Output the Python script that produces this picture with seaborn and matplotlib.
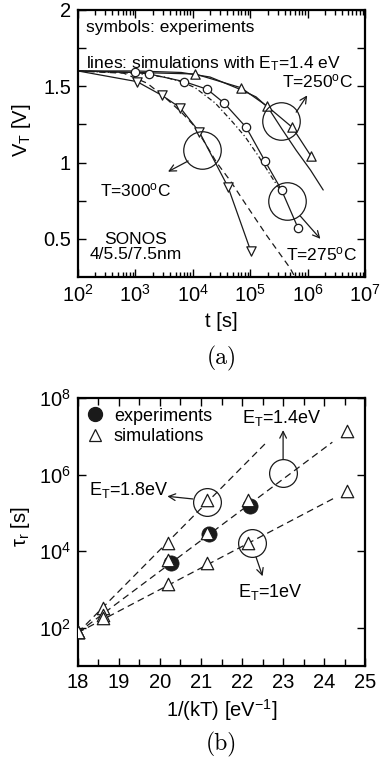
import matplotlib
matplotlib.use("Agg")
import matplotlib.pyplot as plt
import numpy as np
import pandas as pd
import seaborn as sns
from matplotlib.lines import Line2D
from matplotlib.ticker import (LogLocator, MultipleLocator, FixedLocator,
                               NullFormatter, LogFormatterSciNotation, NullLocator)

sns.set_theme(style="ticks", rc={
    "axes.edgecolor": "black", "text.color": "black", "axes.labelcolor": "black",
    "xtick.color": "black", "ytick.color": "black"})
plt.rcParams["font.family"] = ["Liberation Sans", "DejaVu Sans"]
plt.rcParams["mathtext.fontset"] = "custom"
plt.rcParams["mathtext.rm"] = "Liberation Sans"
plt.rcParams["mathtext.it"] = "Liberation Sans:italic"
plt.rcParams["mathtext.bf"] = "Liberation Sans:bold"
plt.rcParams["mathtext.sf"] = "Liberation Sans"
plt.rcParams["mathtext.default"] = "regular"

# ---------------- panel (a) data ----------------
t_start = 1e2
v_start = 1.60
t300 = [1.07e3, 2.9e3, 6.0e3, 1.3e4, 4.1e4, 1.02e5]
v300 = [1.53, 1.44, 1.36, 1.20, 0.84, 0.42]
t275 = [9.8e2, 1.74e3, 7.1e3, 1.78e4, 3.5e4, 8.5e4, 1.8e5, 3.5e5, 6.8e5]
v275 = [1.59, 1.58, 1.53, 1.48, 1.39, 1.23, 1.01, 0.82, 0.57]
t250 = [1.1e4, 6.9e4, 1.95e5, 5.4e5, 1.15e6]
v250 = [1.58, 1.49, 1.37, 1.23, 1.04]

sim300_t = [1e2, 6.3e2, 1.6e3, 3.2e3, 6.3e3, 1e4, 1.5e4, 2.6e4, 4.5e4, 7.9e4, 1.95e5, 4.9e5, 6.2e5]
sim300_v = [1.60, 1.585, 1.52, 1.43, 1.33, 1.25, 1.15, 1.00, 0.88, 0.74, 0.52, 0.31, 0.24]
sim275_t = [1e2, 1e3, 3.2e3, 6.3e3, 1.1e4, 2.45e4, 4.8e4, 8.1e4, 1.4e5, 2.5e5, 3.2e5]
sim275_v = [1.60, 1.585, 1.56, 1.53, 1.49, 1.39, 1.27, 1.17, 1.04, 0.89, 0.83]
sim250_t = [1e2, 1e3, 6.3e3, 2e4, 6.6e4, 1.26e5, 2.04e5, 3.55e5, 6.3e5, 1.12e6, 1.86e6]
sim250_v = [1.60, 1.60, 1.59, 1.56, 1.48, 1.43, 1.36, 1.22, 1.08, 0.95, 0.82]

# annotations panel (a): circle centre, arrow tail, arrow head, label position
ann_a_labels = ["T=300$^{\\rm o}$C", "T=250$^{\\rm o}$C", "T=275$^{\\rm o}$C"]
ann_a_circle = [(1.45e4, 1.085), (3.47e5, 1.27), (4.37e5, 0.745)]
ann_a_tail = [(8.3e3, 1.01), (6.3e5, 1.33), (7.4e5, 0.65)]
ann_a_head = [(3.7e3, 0.94), (9.8e5, 1.44), (1.66e6, 0.50)]
ann_a_text = [(1.0e3, 0.82), (1.45e6, 1.53), (1.75e6, 0.40)]

# ---------------- panel (b) data ----------------
kT_exp = [20.27, 21.2, 22.2]
tau_exp = [4.8e3, 2.8e4, 1.5e5]
kT_18 = [18.0, 18.6, 20.2, 21.15]
tau_18 = [75, 330, 1.6e4, 2.2e5]
kT_14 = [18.0, 18.6, 20.2, 21.15, 22.15, 24.55]
tau_14 = [75, 220, 5.8e3, 2.9e4, 2.1e5, 1.4e7]
kT_10 = [18.0, 18.6, 20.2, 21.15, 22.15, 24.55]
tau_10 = [75, 175, 1.4e3, 4.8e3, 1.6e4, 3.7e5]
line18_kT = [18.0, 22.6]
line18_tau = [74, 7e6]
line14_kT = [18.0, 24.2]
line14_tau = [74, 7e6]
line10_kT = [18.0, 24.3]
line10_tau = [74, 2.6e5]

ann_b_labels = ["E$_\\mathrm{T}$=1.8eV", "E$_\\mathrm{T}$=1.4eV", "E$_\\mathrm{T}$=1eV"]
ann_b_circle = [(21.15, 1.9e5), (23.0, 1.1e6), (22.24, 1.6e4)]
ann_b_tail = [(20.8, 2.3e5), (23.0, 2.5e6), (22.34, 7e3)]
ann_b_head = [(20.18, 2.7e5), (23.0, 1.45e7), (22.5, 2.2e3)]
ann_b_text = [(19.25, 3.9e5), (22.98, 3.0e7), (22.68, 8.3e2)]

fig = plt.figure(figsize=(3.8, 7.61), dpi=100)
ax1 = fig.add_axes([0.205, 0.636, 0.756, 0.351])
ax2 = fig.add_axes([0.205, 0.125, 0.756, 0.352])

LW = 0.9
FS_TXT = 12.5
FS_TICK = 14.5
FS_LAB = 14.5
# ---- panel (a) lines
sns.lineplot(x=sim300_t, y=sim300_v, ax=ax1, color="k", lw=LW, sort=False,
             estimator=None, linestyle=(0, (5, 3.5)))
sns.lineplot(x=sim275_t, y=sim275_v, ax=ax1, color="k", lw=LW, sort=False,
             estimator=None, linestyle=(0, (4, 2, 1, 2)))
sns.lineplot(x=sim250_t, y=sim250_v, ax=ax1, color="k", lw=LW, sort=False,
             estimator=None)
for tt, vv in [(t300, v300), (t275, v275), (t250, v250)]:
    sns.lineplot(x=[t_start] + tt, y=[v_start] + vv, ax=ax1, color="k", lw=LW,
                 sort=False, estimator=None)
sns.scatterplot(x=t300, y=v300, ax=ax1, marker="v", s=45, facecolor="white",
                edgecolor="k", linewidth=0.9, zorder=5)
sns.scatterplot(x=t275, y=v275, ax=ax1, marker="o", s=36, facecolor="white",
                edgecolor="k", linewidth=0.9, zorder=5)
sns.scatterplot(x=t250, y=v250, ax=ax1, marker="^", s=45, facecolor="white",
                edgecolor="k", linewidth=0.9, zorder=5)
for lab, c, tl, hd, tx in zip(ann_a_labels, ann_a_circle, ann_a_tail, ann_a_head, ann_a_text):
    ax1.plot([c[0]], [c[1]], marker="o", ms=27, mfc="none", mec="k", mew=0.9, zorder=6)
    ax1.annotate("", xy=hd, xytext=tl,
                 arrowprops=dict(arrowstyle="->", lw=0.9, color="k", shrinkA=0, shrinkB=0))
    ax1.text(tx[0], tx[1], lab, ha="center", va="center", fontsize=FS_TXT, zorder=7)

ax1.set_xscale("log")
ax1.set_xlim(1e2, 1e7)
ax1.set_ylim(0.25, 2.0)
ax1.xaxis.set_major_locator(LogLocator(base=10, numticks=10))
ax1.xaxis.set_major_formatter(LogFormatterSciNotation())
ax1.xaxis.set_minor_locator(LogLocator(base=10, subs=np.arange(2, 10), numticks=20))
ax1.xaxis.set_minor_formatter(NullFormatter())
ax1.yaxis.set_major_locator(FixedLocator([0.5, 1.0, 1.5, 2.0]))
ax1.set_yticklabels(["0.5", "1", "1.5", "2"])
ax1.yaxis.set_minor_locator(FixedLocator([0.75, 1.25, 1.75]))
ax1.text(0.028, 0.934, "symbols: experiments", transform=ax1.transAxes,
         ha="left", va="center", fontsize=FS_TXT)
ax1.text(0.028, 0.80, "lines: simulations with E$_\\mathrm{T}$=1.4 eV",
         transform=ax1.transAxes, ha="left", va="center", fontsize=FS_TXT)
ax1.text(0.2, 0.112, "SONOS\n4/5.5/7.5nm", transform=ax1.transAxes,
         ha="center", va="center", fontsize=FS_TXT, linespacing=1.05)
ax1.set_xlabel("t [s]", fontsize=FS_LAB)
ax1.set_ylabel("V$_\\mathrm{T}$ [V]", fontsize=FS_LAB)
ax1.xaxis.set_label_coords(0.5, -0.13)
ax1.yaxis.set_label_coords(-0.155, 0.55)
ax1.text(0.5, -0.305, "(a)", transform=ax1.transAxes, ha="center", va="center",
         fontsize=17, family="cmr10")

# ---- panel (b)
dash = (0, (5.5, 3.5))
for lx, ly in [(line18_kT, line18_tau), (line14_kT, line14_tau), (line10_kT, line10_tau)]:
    sns.lineplot(x=lx, y=ly, ax=ax2, color="k", lw=LW, linestyle=dash,
                 sort=False, estimator=None)
sns.scatterplot(x=kT_exp, y=tau_exp, ax=ax2, marker="o", s=120, color="k",
                edgecolor="k", linewidth=0.5, zorder=5)
for kx, ty in [(kT_18, tau_18), (kT_14, tau_14), (kT_10, tau_10)]:
    sns.scatterplot(x=kx, y=ty, ax=ax2, marker="^", s=80, facecolor="white",
                    edgecolor="k", linewidth=0.9, zorder=6)
for lab, c, tl, hd, tx in zip(ann_b_labels, ann_b_circle, ann_b_tail, ann_b_head, ann_b_text):
    ax2.plot([c[0]], [c[1]], marker="o", ms=20, mfc="none", mec="k", mew=0.9, zorder=7)
    ax2.annotate("", xy=hd, xytext=tl,
                 arrowprops=dict(arrowstyle="->", lw=0.9, color="k", shrinkA=0, shrinkB=0))
    ax2.text(tx[0], tx[1], lab, ha="center", va="center", fontsize=FS_TXT + 0.5)

ax2.set_yscale("log")
ax2.set_xlim(18, 25)
ax2.set_ylim(1e1, 1e8)
ax2.xaxis.set_major_locator(MultipleLocator(1))
ax2.xaxis.set_minor_locator(MultipleLocator(0.5))
ax2.yaxis.set_major_locator(FixedLocator([1e2, 1e4, 1e6, 1e8]))
ax2.yaxis.set_major_formatter(LogFormatterSciNotation())
ax2.yaxis.set_minor_locator(NullLocator())
handles = [Line2D([], [], marker="o", ls="none", color="k", ms=10),
           Line2D([], [], marker="^", ls="none", mfc="white", mec="k", mew=0.9, ms=8)]
ax2.legend(handles, ["experiments", "simulations"], loc="upper left",
           bbox_to_anchor=(-0.035, 1.025), frameon=False, fontsize=FS_TXT + 0.5,
           handlelength=1.2, handletextpad=0.45, labelspacing=0.2)
ax2.set_xlabel("1/(kT) [eV$^{-1}$]", fontsize=FS_LAB)
ax2.set_ylabel("$\\tau_\\mathrm{r}$ [s]", fontsize=FS_LAB)
ax2.xaxis.set_label_coords(0.5, -0.115)
ax2.yaxis.set_label_coords(-0.16, 0.52)
ax2.text(0.5, -0.295, "(b)", transform=ax2.transAxes, ha="center", va="center",
         fontsize=17, family="cmr10")

for ax in (ax1, ax2):
    ax.tick_params(which="both", direction="in", top=True, right=True,
                   labelsize=FS_TICK, width=1.0, pad=5)
    ax.tick_params(which="major", length=6)
    ax.tick_params(which="minor", length=3.5)
    for s in ax.spines.values():
        s.set_linewidth(1.6)
        s.set_visible(True)
ax1.tick_params(axis="y", which="minor", length=6)
ax2.tick_params(axis="x", which="minor", length=5)

fig.savefig("out.png", dpi=100)
